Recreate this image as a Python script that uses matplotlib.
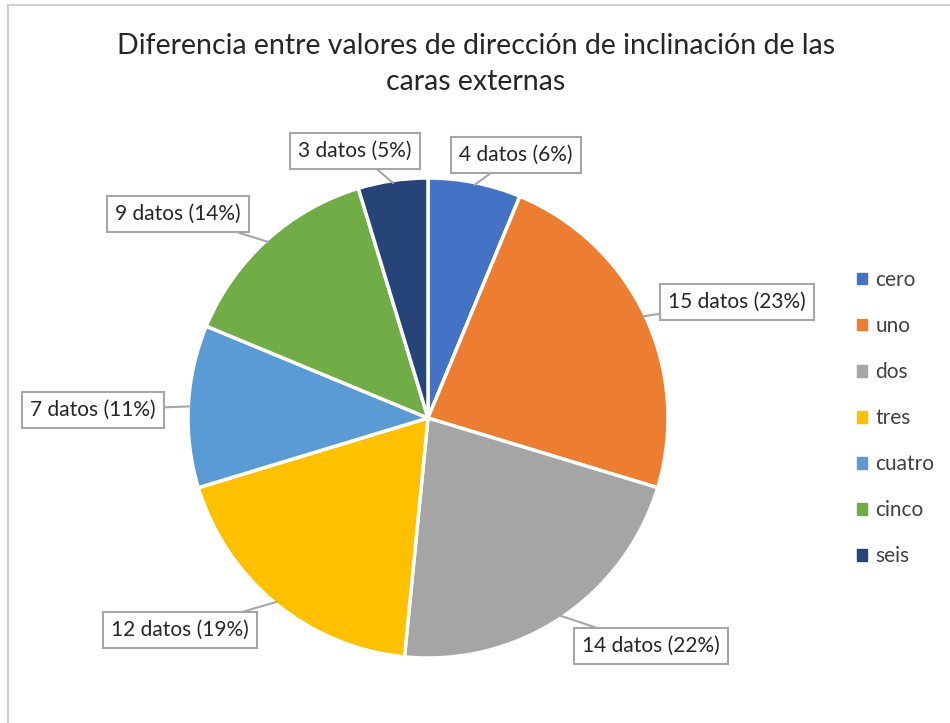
import numpy as np
import matplotlib
matplotlib.use("Agg")
import matplotlib.pyplot as plt
from matplotlib.patches import Patch

# data
categorias = ["cero", "uno", "dos", "tres", "cuatro", "cinco", "seis"]
datos = [4, 15, 14, 12, 7, 9, 3]
colores = ["#4472C4", "#ED7D31", "#A5A5A5", "#FFC000", "#5B9BD5", "#70AD47", "#264478"]
titulo = "Diferencia entre valores de dirección de inclinación de las\ncaras externas"

# label box centres in pixels (top-left origin)
pos_etiquetas = [(516, 155), (737, 302), (651, 646), (180, 630),
                 (93, 410), (178, 214), (355, 151)]

W, H = 950, 723
plt.rcParams['font.family'] = ['Lato', 'DejaVu Sans']

fig = plt.figure(figsize=(W / 100, H / 100), dpi=100)
ax = fig.add_axes([0, 0, 1, 1])

cx, cy, r = 428, H - 418, 240
wedges, _ = ax.pie(datos, colors=colores, startangle=90, counterclock=False,
                   center=(cx, cy), radius=r, frame=True,
                   wedgeprops=dict(edgecolor='white', linewidth=2.5))
ax.set_xlim(0, W)
ax.set_ylim(0, H)
ax.set_aspect('equal')
ax.axis('off')

total = sum(datos)
for w, n, (lx, ly) in zip(wedges, datos, pos_etiquetas):
    ang = np.deg2rad((w.theta1 + w.theta2) / 2)
    px, py = cx + r * 0.99 * np.cos(ang), cy + r * 0.99 * np.sin(ang)
    txt = f"{n} datos ({round(100 * n / total)}%)"
    ax.annotate(txt, xy=(px, py), xytext=(lx, H - ly), ha='center', va='center',
                fontsize=15, color='#262626',
                bbox=dict(boxstyle='square,pad=0.38', fc='white', ec='#A6A6A6', lw=1.5),
                arrowprops=dict(arrowstyle='-', color='#A6A6A6', lw=1.5,
                                shrinkA=0, shrinkB=0))

ax.text(W / 2 + 1, H - 64, titulo, ha='center', va='center', fontsize=20.5,
        color='#262626', linespacing=1.45)

handles = [Patch(facecolor=c, edgecolor=c) for c in colores]
fig.legend(handles, categorias, loc='center left', bbox_to_anchor=(838 / W, 1 - 418 / H),
           frameon=False, fontsize=15, handlelength=0.5, handleheight=0.5,
           handletextpad=0.4, labelspacing=1.25, labelcolor='#404040')

# chart frame (left and top edges)
ax.plot([8, 8], [0, H - 5], color='#D0D0D0', lw=1.5)
ax.plot([8, W], [H - 5, H - 5], color='#D0D0D0', lw=1.5)

fig.savefig("out.png", dpi=100, facecolor='white')
